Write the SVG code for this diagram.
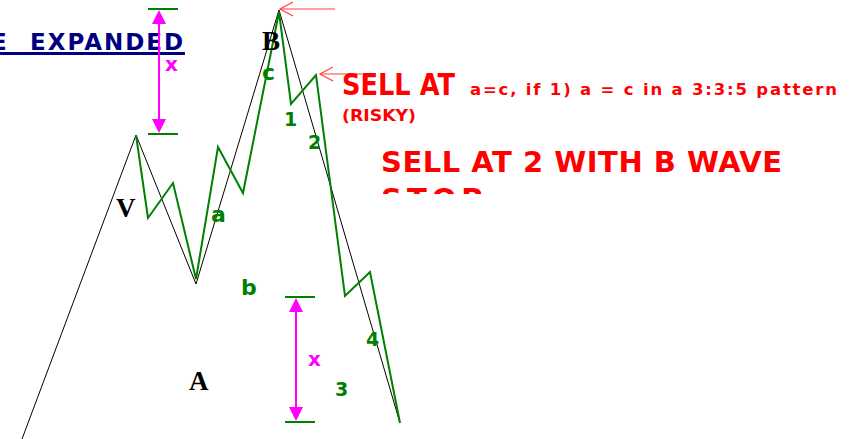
<svg xmlns="http://www.w3.org/2000/svg" width="861" height="439" viewBox="0 0 861 439">
<style>
.blk{fill:none;stroke:#000;stroke-width:1}
.grn{fill:none;stroke:#008000;stroke-width:2}
.tick{stroke:#008000;stroke-width:2}
.mag{stroke:#ff00ff;stroke-width:2}
.redl{fill:none;stroke:#ff4040;stroke-width:1.2}
.lbl{font-family:"Liberation Serif",serif;font-weight:bold;font-size:27px;fill:#000}
.glbl{font-family:"DejaVu Sans",sans-serif;font-weight:bold;font-size:19px;fill:#008000}
.gsm{font-family:"DejaVu Sans",sans-serif;font-weight:bold;font-size:22px;fill:#008000}
.mlbl{font-family:"DejaVu Sans",sans-serif;font-weight:bold;font-size:20px;fill:#ff00ff}
.red{font-family:"DejaVu Sans",sans-serif;font-weight:bold;fill:#ff0000}
.nav{font-family:"DejaVu Sans",sans-serif;font-weight:bold;font-size:23px;fill:#000080}
</style>
<defs>
<clipPath id="clipStop"><rect x="370" y="140" width="480" height="54"/></clipPath>
</defs>
<rect width="861" height="439" fill="#fff"/>
<g id="title">
<text class="nav" x="-9" y="50">E</text>
<text class="nav" x="30" y="50" textLength="153" lengthAdjust="spacing">EXPANDED</text>
<line x1="0" y1="53.5" x2="185" y2="53.5" stroke="#000080" stroke-width="3"/>
</g>
<g id="connectors">
<polyline class="blk" points="22,439 136,135 196,284 279,10 400,423"/>
<polyline class="grn" points="136,135 148,218 173,183 196,279 218,147 243,193 279,12 291,104 316,75 345,296 370,272 400,423"/>
<g id="measure-top">
<line class="tick" x1="148" y1="9" x2="178" y2="9"/>
<line class="tick" x1="148" y1="134" x2="178" y2="134"/>
<line class="mag" x1="159" y1="20" x2="159" y2="124"/>
<polygon points="159,10 152,24 166,24" fill="#ff00ff"/>
<polygon points="159,133 152,119 166,119" fill="#ff00ff"/>
</g>
<g id="measure-bottom">
<line class="tick" x1="285" y1="297" x2="315" y2="297"/>
<line class="tick" x1="285" y1="422" x2="315" y2="422"/>
<line class="mag" x1="296" y1="308" x2="296" y2="412"/>
<polygon points="296,298 289,312 303,312" fill="#ff00ff"/>
<polygon points="296,421 289,407 303,407" fill="#ff00ff"/>
</g>
<g id="arrow-B">
<line class="redl" x1="280" y1="9" x2="335" y2="9"/>
<polyline class="redl" points="293,2 280,9 293,16"/>
</g>
<g id="arrow-c">
<line class="redl" x1="320" y1="74" x2="362" y2="74"/>
<polyline class="redl" points="333,67 320,74 333,81"/>
</g>
</g>
<g id="wave-labels">
<text class="lbl" x="262" y="50">B</text>
<text class="lbl" x="116" y="217">V</text>
<text class="lbl" x="189" y="390">A</text>
<text class="gsm" x="262" y="80">c</text>
<text class="glbl" x="284" y="126">1</text>
<text class="glbl" x="308" y="149">2</text>
<text class="gsm" x="211" y="222">a</text>
<text class="gsm" x="241" y="295">b</text>
<text class="glbl" x="366" y="346">4</text>
<text class="glbl" x="335" y="396">3</text>
<text class="mlbl" x="165" y="71">x</text>
<text class="mlbl" x="308" y="366">x</text>
</g>
<g id="note-1">
<text class="red" x="342" y="95" font-size="30" textLength="113" lengthAdjust="spacingAndGlyphs">SELL AT</text>
<text class="red" x="470" y="95" font-size="16.5" textLength="367" lengthAdjust="spacing">a=c, if 1) a = c in a 3:3:5 pattern</text>
<text class="red" x="342" y="121" font-size="16.5" textLength="74" lengthAdjust="spacingAndGlyphs">(RISKY)</text>
</g>
<g id="note-2" clip-path="url(#clipStop)">
<text class="red" x="381" y="172" font-size="29" textLength="401" lengthAdjust="spacing">SELL AT 2 WITH B WAVE</text>
<text class="red" x="381" y="209" font-size="29" letter-spacing="5">STOP</text>
</g>
</svg>
